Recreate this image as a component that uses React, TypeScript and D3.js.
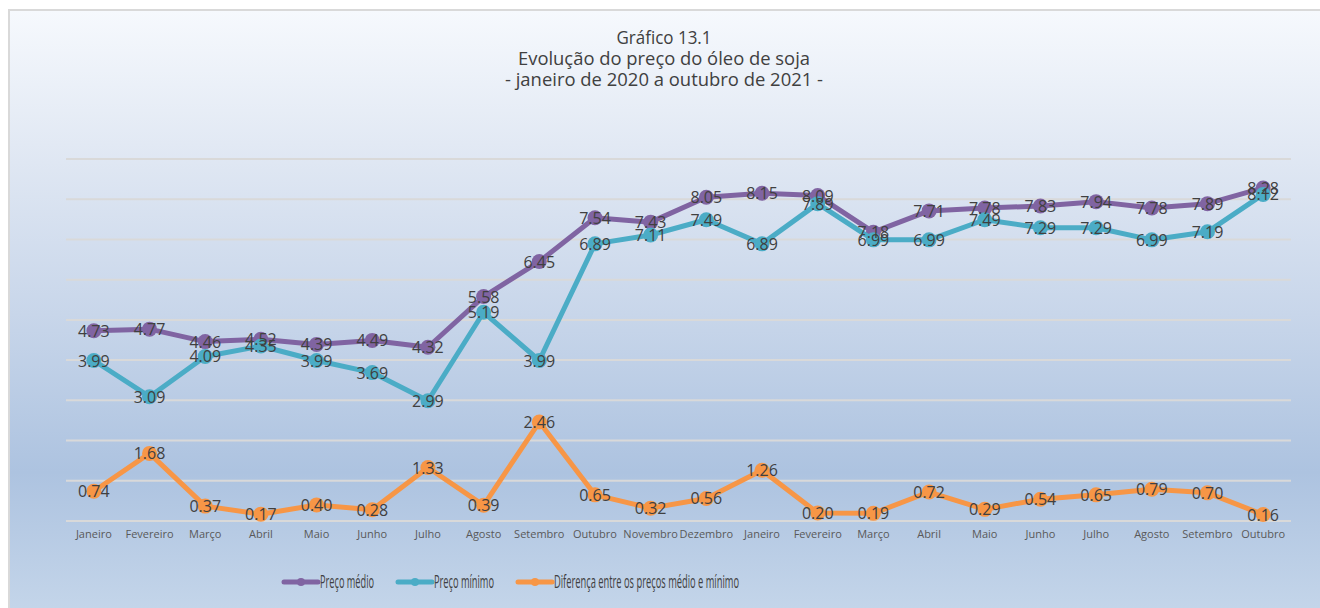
import React from "react";
import * as d3 from "d3";

const categories = [
  "Janeiro", "Fevereiro", "Março", "Abril", "Maio", "Junho", "Julho", "Agosto",
  "Setembro", "Outubro", "Novembro", "Dezembro", "Janeiro", "Fevereiro", "Março",
  "Abril", "Maio", "Junho", "Julho", "Agosto", "Setembro", "Outubro",
];
const precoMedio = [4.73, 4.77, 4.46, 4.52, 4.39, 4.49, 4.32, 5.58, 6.45, 7.54, 7.43, 8.05, 8.15, 8.09, 7.18, 7.71, 7.78, 7.83, 7.94, 7.78, 7.89, 8.28];
const precoMinimo = [3.99, 3.09, 4.09, 4.35, 3.99, 3.69, 2.99, 5.19, 3.99, 6.89, 7.11, 7.49, 6.89, 7.89, 6.99, 6.99, 7.49, 7.29, 7.29, 6.99, 7.19, 8.12];
const diferenca = [0.74, 1.68, 0.37, 0.17, 0.40, 0.28, 1.33, 0.39, 2.46, 0.65, 0.32, 0.56, 1.26, 0.20, 0.19, 0.72, 0.29, 0.54, 0.65, 0.79, 0.70, 0.16];
const yTicks = [0, 1, 2, 3, 4, 5, 6, 7, 8, 9];
const titleLines = ["Gráfico 13.1", "Evolução do preço do óleo de soja", "- janeiro de 2020 a outubro de 2021 -"];
const titleWidths = [95, 292, 318];

const seriesList = [
  { name: "Preço médio", values: precoMedio, color: "#8064a2" },
  { name: "Preço mínimo", values: precoMinimo, color: "#4bacc6" },
  { name: "Diferença entre os preços médio e mínimo", values: diferenca, color: "#f79646" },
];

const W = 1320;
const H = 608;
const FONT = "'Open Sans', sans-serif";

export default function App() {
  const x = d3.scaleBand<number>().domain(categories.map((_, i) => i)).range([66, 1291]);
  const y = d3.scaleLinear().domain([0, 9]).range([521, 159]);
  const cx = (i: number) => (x(i) as number) + x.bandwidth() / 2;
  const line = d3.line<number>().x((_, i) => cx(i)).y((d) => y(d));

  const legendItems = [
    { x: 284, textX: 320, w: 54 },
    { x: 398, textX: 434, w: 60 },
    { x: 518, textX: 554, w: 185 },
  ];

  return (
    <svg width={W} height={H} style={{ position: "absolute", left: 0, top: 0 }} fontFamily={FONT}>
      <defs>
        <linearGradient id="bg" x1="0" y1="0" x2="0" y2="1">
          <stop offset="0" stopColor="#f6f9fd" />
          <stop offset="0.22" stopColor="#e2e9f4" />
          <stop offset="0.5" stopColor="#c8d6ea" />
          <stop offset="0.76" stopColor="#adc3e0" />
          <stop offset="1" stopColor="#c5d6ea" />
        </linearGradient>
      </defs>
      <rect x={0} y={0} width={W} height={H} fill="#ffffff" />
      <rect x={9} y={10} width={W} height={H} fill="url(#bg)" stroke="#d9d9d9" strokeWidth={2} />

      {titleLines.map((t, i) => (
        <text key={i} x={664} y={44 + i * 21} textAnchor="middle" fontSize={19} fill="#404040"
          textLength={titleWidths[i]} lengthAdjust="spacingAndGlyphs">
          {t}
        </text>
      ))}

      {yTicks.map((t) => (
        <line key={t} x1={66} x2={1291} y1={y(t)} y2={y(t)} stroke="#d9d9d9" strokeWidth={2} />
      ))}

      {categories.map((c, i) => (
        <text key={i} x={cx(i)} y={538} textAnchor="middle" fontSize={11} fill="#595959">
          {c}
        </text>
      ))}

      {seriesList.map((s) => (
        <g key={s.name}>
          <path d={line(s.values) || ""} fill="none" stroke={s.color} strokeWidth={5} strokeLinejoin="round" />
          {s.values.map((v, i) => (
            <circle key={i} cx={cx(i)} cy={y(v)} r={7.5} fill={s.color} />
          ))}
        </g>
      ))}

      {seriesList.map((s) => (
        <g key={s.name + "-labels"}>
          {s.values.map((v, i) => (
            <text key={i} x={cx(i)} y={y(v) + 6} textAnchor="middle" fontSize={16} fill="#404040">
              {v.toFixed(2)}
            </text>
          ))}
        </g>
      ))}

      {seriesList.map((s, i) => (
        <g key={s.name + "-legend"}>
          <line x1={legendItems[i].x} x2={legendItems[i].x + 34} y1={582} y2={582} stroke={s.color} strokeWidth={5} strokeLinecap="round" />
          <circle cx={legendItems[i].x + 17} cy={582} r={4} fill={s.color} />
          <text x={legendItems[i].textX} y={588} fontSize={19} fill="#404040"
            textLength={legendItems[i].w} lengthAdjust="spacingAndGlyphs">
            {s.name}
          </text>
        </g>
      ))}
    </svg>
  );
}
